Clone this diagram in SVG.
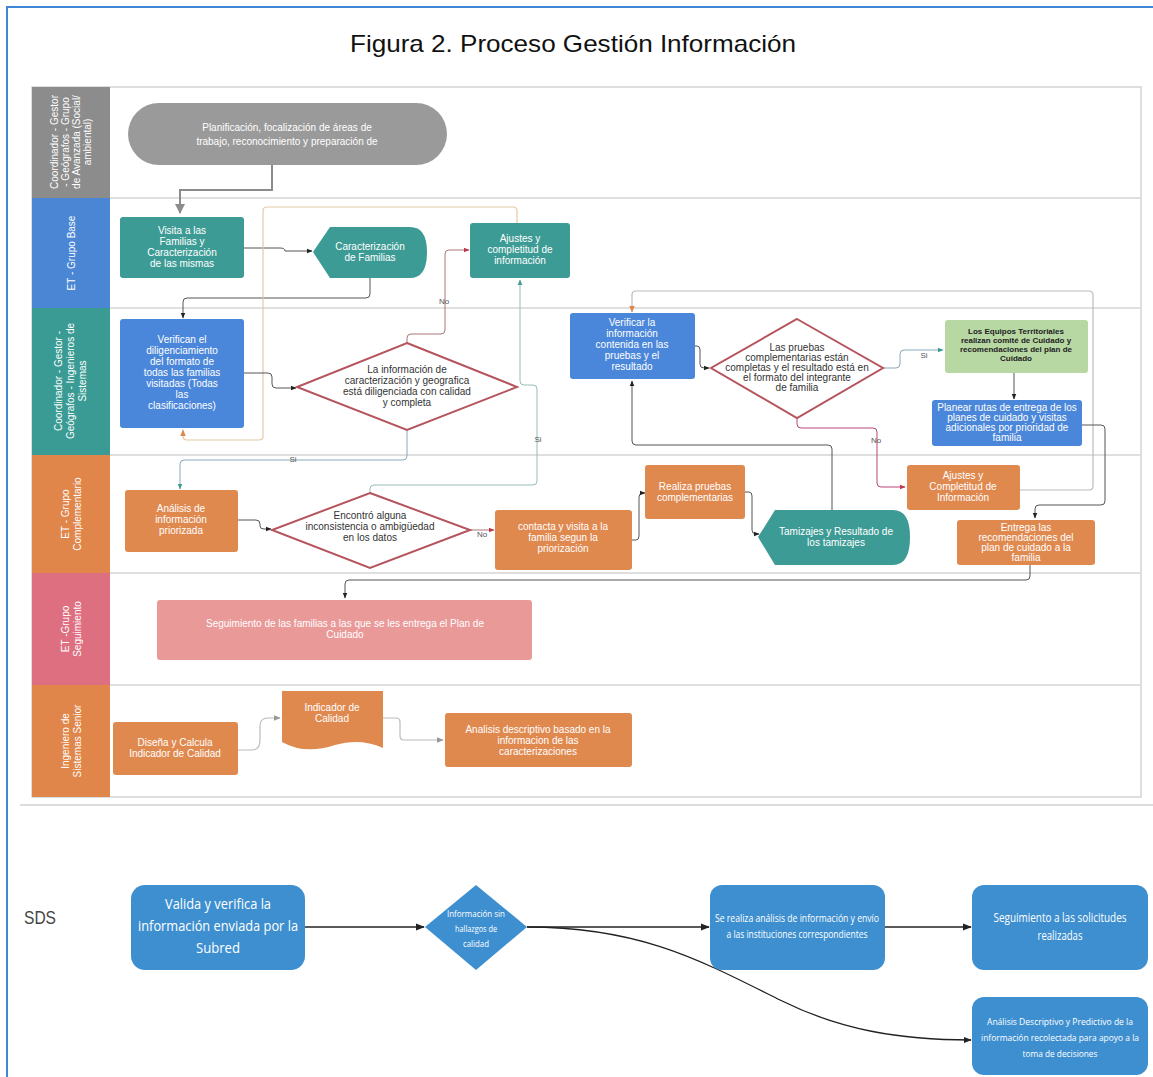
<svg xmlns="http://www.w3.org/2000/svg" width="1153" height="1077" viewBox="0 0 1153 1077">
<defs>
<marker id="ab" viewBox="0 0 10 10" refX="9" refY="5" markerWidth="6" markerHeight="6" orient="auto"><path d="M0,1 L10,5 L0,9 z" fill="#222"/></marker>
<marker id="at" viewBox="0 0 10 10" refX="9" refY="5" markerWidth="6" markerHeight="6" orient="auto"><path d="M0,1 L10,5 L0,9 z" fill="#3a9b94"/></marker>
<marker id="ar" viewBox="0 0 10 10" refX="9" refY="5" markerWidth="6" markerHeight="6" orient="auto"><path d="M0,1 L10,5 L0,9 z" fill="#c0394a"/></marker>
<marker id="ao" viewBox="0 0 10 10" refX="9" refY="5" markerWidth="6" markerHeight="6" orient="auto"><path d="M0,1 L10,5 L0,9 z" fill="#e0864a"/></marker>
<marker id="ag" viewBox="0 0 10 10" refX="9" refY="5" markerWidth="6" markerHeight="6" orient="auto"><path d="M0,1 L10,5 L0,9 z" fill="#999"/></marker>
<marker id="agb" viewBox="0 0 10 10" refX="9" refY="5" markerWidth="5" markerHeight="5" orient="auto"><path d="M0,0 L10,5 L0,10 z" fill="#8c8c8c"/></marker>
</defs>
<style>
text{font-family:"Liberation Sans",Arial,sans-serif}
.t{fill:#fff;font-size:10px;text-anchor:middle}
.td{fill:#333;font-size:10px;text-anchor:middle}
.tk{fill:#222;font-size:8px;text-anchor:middle;font-weight:bold}
.lab{fill:#fff;font-size:10px;text-anchor:middle}
.lbl{fill:#555;font-size:8px;text-anchor:middle}
.s{fill:#fff;font-family:"Open Sans","Liberation Sans",sans-serif;text-anchor:middle}
.c{fill:none;stroke:#555;stroke-width:1}
.cl{fill:none;stroke:#bbb;stroke-width:1.2}
.teal{fill:#3d9b95}
.blue{fill:#4a86d9}
.org{fill:#e0894f}
.dia{fill:#fff;stroke:#b5545c;stroke-width:2}
.sds{fill:#3e8fd0}
.lane{fill:none;stroke:#d4d4d4;stroke-width:1.5}
</style>
<rect width="1153" height="1077" fill="#fff"/>
<path d="M7,1077 V7 H1153" fill="none" stroke="#3f86d6" stroke-width="2"/>
<text x="573" y="52" font-size="24" text-anchor="middle" fill="#111" textLength="446" lengthAdjust="spacingAndGlyphs">Figura 2. Proceso Gestión Información</text>

<g id="lanes">
<rect x="32" y="87" width="1109" height="710" class="lane"/>
<line x1="110" y1="198" x2="1141" y2="198" class="lane"/>
<line x1="110" y1="308" x2="1141" y2="308" class="lane"/>
<line x1="110" y1="455" x2="1141" y2="455" class="lane"/>
<line x1="110" y1="573" x2="1141" y2="573" class="lane"/>
<line x1="110" y1="685" x2="1141" y2="685" class="lane"/>
<rect x="32" y="87" width="78" height="111" fill="#8c8c8c"/>
<rect x="32" y="198" width="78" height="110" fill="#4a86d4"/>
<rect x="32" y="308" width="78" height="147" fill="#3a9b94"/>
<rect x="32" y="455" width="78" height="118" fill="#e0864a"/>
<rect x="32" y="573" width="78" height="112" fill="#dd6f80"/>
<rect x="32" y="685" width="78" height="112" fill="#e0864a"/>
<text class="lab" transform="translate(58,142) rotate(-90)"><tspan x="0" dy="0">Coordinador - Gestor</tspan><tspan x="0" dy="11">- Geógrafos - Grupo</tspan><tspan x="0" dy="11">de Avanzada (Social/</tspan><tspan x="0" dy="11">ambiental)</tspan></text>
<text class="lab" transform="translate(75,253) rotate(-90)">ET - Grupo Base</text>
<text class="lab" transform="translate(62,381) rotate(-90)"><tspan x="0" dy="0">Coordinador - Gestor -</tspan><tspan x="0" dy="12">Geógrafos - Ingenieros de</tspan><tspan x="0" dy="12">Sistemas</tspan></text>
<text class="lab" transform="translate(69,514) rotate(-90)"><tspan x="0" dy="0">ET - Grupo</tspan><tspan x="0" dy="12">Complementario</tspan></text>
<text class="lab" transform="translate(69,629) rotate(-90)"><tspan x="0" dy="0">ET -Grupo</tspan><tspan x="0" dy="12">Seguimiento</tspan></text>
<text class="lab" transform="translate(69,741) rotate(-90)"><tspan x="0" dy="0">Ingeniero de</tspan><tspan x="0" dy="12">Sistemas Senior</tspan></text>
</g>
<line x1="20" y1="805" x2="1153" y2="805" stroke="#d0d0d0" stroke-width="1.5"/>

<g id="connectors">
<path d="M272,165 V190 H180 V213" fill="none" stroke="#8c8c8c" stroke-width="2" marker-end="url(#agb)"/>
<path d="M244,248 H280 Q285,248 285,251 H312" class="c" marker-end="url(#ab)"/>
<path d="M370,278 V294 Q370,298 366,298 H187 Q183,298 183,302 V318" class="c" marker-end="url(#ab)"/>
<path d="M517,223 V211 Q517,207 513,207 H267 Q263,207 263,211 V436 Q263,440 259,440 H187 Q183,440 183,436 V430" fill="none" stroke="#e3c9a8" stroke-width="1.2" marker-end="url(#ao)"/>
<path d="M244,373 H268 Q272,373 272,377 V384 Q272,388 276,388 H296" class="c" marker-end="url(#ab)"/>
<path d="M407,343 V338 Q407,334 411,334 H441 Q445,334 445,330 V254 Q445,250 449,250 H469" fill="none" stroke="#a77" stroke-width="1" marker-end="url(#ar)"/>
<path d="M407,430 V456 Q407,460 403,460 H184 Q180,460 180,464 V489" fill="none" stroke="#8ab" stroke-width="1" marker-end="url(#at)"/>
<path d="M370,493 V489 Q370,485 374,485 H533 Q537,485 537,481 V389 Q537,385 533,385 H524 Q520,385 520,381 V280" fill="none" stroke="#9bb" stroke-width="1" marker-end="url(#at)"/>
<path d="M238,520 H256 Q260,520 260,524 V526 Q260,529 264,529 H271" class="c" marker-end="url(#ab)"/>
<path d="M470,530 H494" fill="none" stroke="#a77" stroke-width="1" marker-end="url(#ar)"/>
<path d="M632,540 H636 Q639,540 639,536 V497 Q639,493 643,493 H645" class="c" marker-end="url(#ab)"/>
<path d="M745,492 H749 Q752,492 752,496 V530 Q752,534 756,534 H759" class="c" marker-end="url(#ab)"/>
<path d="M832,510 V449 Q832,445 828,445 H636 Q632,445 632,441 V381" class="c" marker-end="url(#ab)"/>
<path d="M695,346 H697 Q700,346 700,350 V364 Q700,368 704,368 H709" class="c" marker-end="url(#ab)"/>
<path d="M883,368 H896 Q900,368 900,364 V354 Q900,350 904,350 H943" fill="none" stroke="#8ab" stroke-width="1" marker-end="url(#at)"/>
<path d="M1014,373 V399" class="c" marker-end="url(#ab)"/>
<path d="M797,418 V424 Q797,428 801,428 H873 Q877,428 877,432 V483 Q877,487 881,487 H905" fill="none" stroke="#b47" stroke-width="1" marker-end="url(#ar)"/>
<path d="M1020,490 H1089 Q1093,490 1093,486 V295 Q1093,291 1089,291 H636 Q632,291 632,295 V312" fill="none" stroke="#bbb" stroke-width="1.2" marker-end="url(#ao)"/>
<path d="M1082,425 H1101 Q1105,425 1105,429 V501 Q1105,505 1101,505 H1039 Q1035,505 1035,509 V518" class="c" marker-end="url(#ab)"/>
<path d="M1030,565 V576 Q1030,580 1026,580 H349 Q345,580 345,584 V598" class="c" marker-end="url(#ab)"/>
<path d="M238,750 H252 Q260,750 260,740 V726 Q260,718 268,718 H280" class="cl" marker-end="url(#ag)"/>
<path d="M383,718 H396 Q400,718 400,722 V736 Q400,740 404,740 H443" class="cl" marker-end="url(#ag)"/>
<text class="lbl" x="444" y="304">No</text>
<text class="lbl" x="293" y="462">Si</text>
<text class="lbl" x="538" y="442">Si</text>
<text class="lbl" x="482" y="537" fill="#c0394a">No</text>
<text class="lbl" x="924" y="358">Si</text>
<text class="lbl" x="876" y="443">No</text>
<path d="M305,927 H424" fill="none" stroke="#222" stroke-width="1.5" marker-end="url(#ab)"/>
<path d="M527,927 H709" fill="none" stroke="#222" stroke-width="1.5" marker-end="url(#ab)"/>
<path d="M885,927 H971" fill="none" stroke="#222" stroke-width="1.5" marker-end="url(#ab)"/>
<path d="M527,927 C640,927 700,960 780,1000 C840,1030 900,1040 971,1040" fill="none" stroke="#222" stroke-width="1.3" marker-end="url(#ab)"/>
</g>

<g id="n-plan"><rect x="128" y="103" width="319" height="62" rx="31" fill="#9a9a9a"/><text class="t" x="287" y="131" font-size="11">Planificación, focalización de áreas de<tspan x="287" dy="14">trabajo, reconocimiento y preparación de</tspan></text></g>
<g id="n-visita"><rect x="120" y="217" width="124" height="61" rx="3" class="teal"/><text class="t" x="182" y="234">Visita a las<tspan x="182" dy="11">Familias y</tspan><tspan x="182" dy="11">Caracterización</tspan><tspan x="182" dy="11">de las  mismas</tspan></text></g>
<g id="n-caract"><path d="M330,227 H410 Q427,227 427,252 Q427,278 410,278 H330 L313,252 Z" class="teal"/><text class="t" x="370" y="250">Caracterización<tspan x="370" dy="11">de Familias</tspan></text></g>
<g id="n-ajustes1"><rect x="470" y="223" width="100" height="55" rx="3" class="teal"/><text class="t" x="520" y="242">Ajustes y<tspan x="520" dy="11">completitud de</tspan><tspan x="520" dy="11">información</tspan></text></g>
<g id="n-verifican"><rect x="120" y="319" width="124" height="109" rx="3" class="blue"/><text class="t" x="182" y="343">Verifican el<tspan x="182" dy="11">diligenciamiento</tspan><tspan x="182" dy="11">del formato  de</tspan><tspan x="182" dy="11">todas las familias</tspan><tspan x="182" dy="11">visitadas (Todas</tspan><tspan x="182" dy="11">las</tspan><tspan x="182" dy="11">clasificaciones)</tspan></text></g>
<g id="n-dec1"><path d="M407,343 L517,387 L407,430 L297,387 Z" class="dia"/><text class="td" x="407" y="373">La información de<tspan x="407" dy="11">caracterización y geografica</tspan><tspan x="407" dy="11">está diligenciada con calidad</tspan><tspan x="407" dy="11">y completa</tspan></text></g>
<g id="n-verificar"><rect x="570" y="313" width="125" height="66" rx="3" class="blue"/><text class="t" x="632" y="326">Verificar la<tspan x="632" dy="11">información</tspan><tspan x="632" dy="11">contenida en las</tspan><tspan x="632" dy="11">pruebas y el</tspan><tspan x="632" dy="11">resultado</tspan></text></g>
<g id="n-dec2"><path d="M797,319 L883,368 L797,418 L711,368 Z" class="dia"/><text class="td" x="797" y="351" font-size="9">Las pruebas<tspan x="797" dy="10">complementarias están</tspan><tspan x="797" dy="10">completas y el resultado está en</tspan><tspan x="797" dy="10">el formato del  integrante</tspan><tspan x="797" dy="10">de familia</tspan></text></g>
<g id="n-equipos"><rect x="945" y="320" width="143" height="53" rx="3" fill="#b7d7a3"/><text class="tk" x="1016" y="334">Los Equipos Territoriales<tspan x="1016" dy="9">realizan comité de Cuidado y</tspan><tspan x="1016" dy="9">recomendaciones del plan de</tspan><tspan x="1016" dy="9">Cuidado</tspan></text></g>
<g id="n-planear"><rect x="932" y="400" width="150" height="46" rx="3" class="blue"/><text class="t" x="1007" y="411" font-size="8">Planear rutas de entrega de los<tspan x="1007" dy="10">planes de cuidado y visitas</tspan><tspan x="1007" dy="10">adicionales por prioridad de</tspan><tspan x="1007" dy="10">familia</tspan></text></g>
<g id="n-analisis"><rect x="125" y="490" width="113" height="62" rx="3" class="org"/><text class="t" x="181" y="512">Análisis de<tspan x="181" dy="11">información</tspan><tspan x="181" dy="11">priorizada</tspan></text></g>
<g id="n-dec3"><path d="M370,493 L470,530 L370,568 L272,530 Z" class="dia"/><text class="td" x="370" y="519">Encontró alguna<tspan x="370" dy="11">inconsistencia o ambigüedad</tspan><tspan x="370" dy="11">en los datos</tspan></text></g>
<g id="n-contacta"><rect x="495" y="510" width="137" height="60" rx="3" class="org"/><text class="t" x="563" y="530">contacta  y  visita a la<tspan x="563" dy="11">familia segun la</tspan><tspan x="563" dy="11">priorización</tspan></text></g>
<g id="n-realiza"><rect x="645" y="465" width="100" height="54" rx="3" class="org"/><text class="t" x="695" y="490">Realiza pruebas<tspan x="695" dy="11">complementarias</tspan></text></g>
<g id="n-tamizajes"><path d="M775,510 H893 Q910,510 910,537 Q910,565 893,565 H775 L758,537 Z" class="teal"/><text class="t" x="836" y="535">Tamizajes y Resultado de<tspan x="836" dy="11">los tamizajes</tspan></text></g>
<g id="n-ajustes2"><rect x="907" y="465" width="113" height="45" rx="3" class="org"/><text class="t" x="963" y="479">Ajustes y<tspan x="963" dy="11">Completitud de</tspan><tspan x="963" dy="11">Información</tspan></text></g>
<g id="n-entrega"><rect x="957" y="520" width="138" height="45" rx="3" class="org"/><text class="t" x="1026" y="531">Entrega las<tspan x="1026" dy="10">recomendaciones del</tspan><tspan x="1026" dy="10">plan de cuidado a la</tspan><tspan x="1026" dy="10">familia</tspan></text></g>
<g id="n-seguimiento"><rect x="157" y="600" width="375" height="60" rx="3" fill="#ea9999"/><text class="t" x="345" y="627">Seguimiento de las familias a las que se les entrega el Plan de<tspan x="345" dy="11">Cuidado</tspan></text></g>
<g id="n-disena"><rect x="113" y="722" width="125" height="53" rx="3" class="org"/><text class="t" x="175" y="746">Diseña y Calcula<tspan x="175" dy="11">Indicador de Calidad</tspan></text></g>
<g id="n-indicador"><path d="M282,691 H383 V748 Q360,738 335,745 Q305,755 282,742 Z" class="org"/><text class="t" x="332" y="711">Indicador de<tspan x="332" dy="11">Calidad</tspan></text></g>
<g id="n-descriptivo"><rect x="445" y="713" width="187" height="54" rx="3" class="org"/><text class="t" x="538" y="733">Analisis descriptivo basado en la<tspan x="538" dy="11">informacion  de las</tspan><tspan x="538" dy="11">caracterizaciones</tspan></text></g>

<text x="40" y="924" font-family="Open Sans,Liberation Sans,sans-serif" font-size="19" fill="#444" text-anchor="middle" textLength="32" lengthAdjust="spacingAndGlyphs">SDS</text>
<g id="n-valida"><rect x="131" y="885" width="174" height="85" rx="14" class="sds"/>
<text class="s" x="218" y="909" font-size="15" textLength="106" lengthAdjust="spacingAndGlyphs">Valida y verifica la</text>
<text class="s" x="218" y="931" font-size="15" textLength="160" lengthAdjust="spacingAndGlyphs">información enviada por la</text>
<text class="s" x="218" y="953" font-size="15" textLength="44" lengthAdjust="spacingAndGlyphs">Subred</text></g>
<g id="n-sinhall"><path d="M476,885 L527,927 L476,970 L425,927 Z" class="sds"/>
<text class="s" x="476" y="917" font-size="9" textLength="58" lengthAdjust="spacingAndGlyphs">Información sin</text>
<text class="s" x="476" y="932" font-size="9" textLength="42" lengthAdjust="spacingAndGlyphs">hallazgos de</text>
<text class="s" x="476" y="947" font-size="9" textLength="26" lengthAdjust="spacingAndGlyphs">calidad</text></g>
<g id="n-serealiza"><rect x="710" y="885" width="175" height="85" rx="12" class="sds"/>
<text class="s" x="797" y="922" font-size="11" textLength="164" lengthAdjust="spacingAndGlyphs">Se realiza análisis de información y envío</text>
<text class="s" x="797" y="938" font-size="11" textLength="141" lengthAdjust="spacingAndGlyphs">a las instituciones correspondientes</text></g>
<g id="n-solicitudes"><rect x="972" y="885" width="176" height="85" rx="12" class="sds"/>
<text class="s" x="1060" y="922" font-size="12" textLength="133" lengthAdjust="spacingAndGlyphs">Seguimiento a las solicitudes</text>
<text class="s" x="1060" y="940" font-size="12" textLength="45" lengthAdjust="spacingAndGlyphs">realizadas</text></g>
<g id="n-predictivo"><rect x="972" y="997" width="176" height="78" rx="12" class="sds"/>
<text class="s" x="1060" y="1025" font-size="9" textLength="146" lengthAdjust="spacingAndGlyphs">Análisis Descriptivo y Predictivo de la</text>
<text class="s" x="1060" y="1041" font-size="9" textLength="158" lengthAdjust="spacingAndGlyphs">información recolectada para apoyo a la</text>
<text class="s" x="1060" y="1057" font-size="9" textLength="75" lengthAdjust="spacingAndGlyphs">toma de decisiones</text></g>
</svg>
